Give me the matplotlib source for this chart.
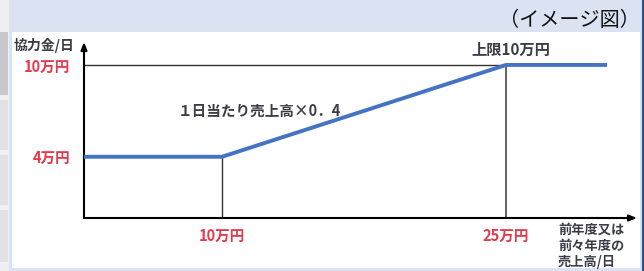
import matplotlib
matplotlib.use("Agg")
import matplotlib.pyplot as plt
from matplotlib.patches import Rectangle
from matplotlib.lines import Line2D

plt.rcParams['font.family'] = ['Noto Sans CJK JP', 'DejaVu Sans']

# data (万円)
sales = [0, 10, 25, 30.34]          # 前年度又は前々年度の売上高/日
payment = [4, 4, 10, 10]            # 協力金/日
xticks = [10, 25]
xtick_labels = ['10万円', '25万円']
yticks = [4, 10]
ytick_labels = ['4万円', '10万円']
xlim = (2.71, 31.92)
ylim = (0, 11.5)

W, H = 644, 271
fig = plt.figure(figsize=(W / 100, H / 100), dpi=100)
fig.patch.set_facecolor('#dbe3f2')

def fx(px):
    return px / W

def fy(py):
    return 1 - py / H

# white panel
fig.patches.append(Rectangle((fx(12), fy(268)), fx(640) - fx(12), fy(32) - fy(268),
                             transform=fig.transFigure, facecolor='white', edgecolor='none', zorder=-5))
# left strip
fig.patches.append(Rectangle((0, 0), fx(9), 1, transform=fig.transFigure,
                             facecolor='#f0f0f2', edgecolor='none', zorder=-5))
for y0, y1, c in [(32, 95, '#c8c8cc'), (100, 150, '#e2e2e6'), (155, 205, '#e2e2e6'), (210, 262, '#e2e2e6')]:
    fig.patches.append(Rectangle((0, fy(y1)), fx(8), fy(y0) - fy(y1), transform=fig.transFigure,
                                 facecolor=c, edgecolor='none', zorder=-4))
# right border
fig.lines.append(Line2D([fx(642.5), fx(642.5)], [0, 1], transform=fig.transFigure,
                        color='#2f4f8f', lw=1.5, zorder=-3))

ax = fig.add_axes([fx(84), fy(218), fx(637) - fx(84), fy(42) - fy(218)])
ax.set_zorder(5)
ax.set_facecolor('none')
ax.set_xlim(*xlim)
ax.set_ylim(*ylim)
for s in ax.spines.values():
    s.set_visible(False)

# axes arrows
arrow = dict(arrowstyle='-|>,head_length=0.45,head_width=0.18', color='black', lw=1.5, shrinkA=0, shrinkB=0)
ax.annotate('', xy=(1, 0), xytext=(0, 0), xycoords='axes fraction', arrowprops=arrow, annotation_clip=False)
ax.annotate('', xy=(0, 1), xytext=(0, 0), xycoords='axes fraction', arrowprops=arrow, annotation_clip=False)

# guide lines
ax.plot([xlim[0], sales[2]], [payment[2], payment[2]], color='#333333', lw=1.0, zorder=2)
ax.plot([sales[1], sales[1]], [0, payment[1]], color='#333333', lw=1.0, zorder=2)
ax.plot([sales[2], sales[2]], [0, payment[2]], color='#555555', lw=1.3, zorder=2)

# main line
ax.plot(sales, payment, color='#4472c4', lw=2.8, solid_capstyle='butt', zorder=3)

red = '#e5384a'
ax.set_xticks(xticks)
ax.set_xticklabels(xtick_labels, color=red, fontsize=10.5, fontweight='bold')
ax.set_yticks(yticks)
ax.set_yticklabels(ytick_labels, color=red, fontsize=10.5, fontweight='bold')
ax.tick_params(axis='x', length=0, pad=7)
ax.tick_params(axis='y', length=0, pad=10)

dark = '#3c3c48'
fig.text(fx(74), fy(45), '協力金/日', ha='right', va='center', fontsize=10, fontweight='bold', color=dark)
fig.text(fx(259), fy(111), '１日当たり売上高×0．4', ha='center', va='center', fontsize=10.5,
         fontweight='bold', color=dark)
fig.text(fx(511), fy(50), '上限10万円', ha='center', va='center', fontsize=11, fontweight='bold', color=dark)
fig.text(fx(558), fy(223), '前年度又は\n前々年度の\n売上高/日', ha='left', va='top', fontsize=9.5,
         fontweight='bold', color=dark, linespacing=1.2)
fig.text(fx(640), fy(20), '（イメージ図）', ha='right', va='center', fontsize=14.5, color='#111111')

fig.savefig('out.png', dpi=100, facecolor=fig.get_facecolor())
